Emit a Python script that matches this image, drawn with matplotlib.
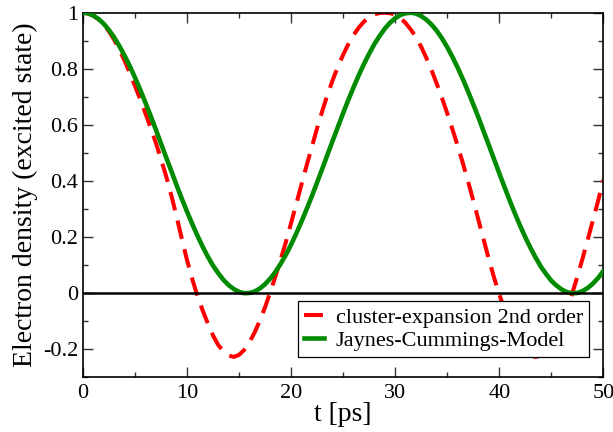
import matplotlib
matplotlib.use("Agg")
import matplotlib.pyplot as plt
import matplotlib.ticker as mticker

# time axis in ps, 0.5 ps steps
t_ps = [i * 0.5 for i in range(101)]

# excited-state electron density, cluster expansion (2nd order)
cluster_2nd = [
    1.000, 0.997, 0.990, 0.977, 0.958, 0.934, 0.905, 0.870, 0.830, 0.786,
    0.740, 0.693, 0.643, 0.592, 0.538, 0.480, 0.418, 0.350, 0.275, 0.196,
    0.120, 0.052, -0.008, -0.060, -0.107, -0.150, -0.184, -0.208, -0.222, -0.227,
    -0.220, -0.202, -0.175, -0.140, -0.098, -0.050, 0.003, 0.060, 0.120, 0.182,
    0.250, 0.318, 0.388, 0.456, 0.522, 0.588, 0.650, 0.708, 0.760, 0.808,
    0.850, 0.888, 0.920, 0.947, 0.968, 0.984, 0.994, 0.999, 1.000, 0.998,
    0.993, 0.981, 0.963, 0.940, 0.912, 0.878, 0.838, 0.794, 0.746, 0.695,
    0.641, 0.584, 0.525, 0.463, 0.398, 0.330, 0.260, 0.190, 0.120, 0.055,
    -0.005, -0.058, -0.105, -0.147, -0.181, -0.207, -0.222, -0.227, -0.222, -0.206,
    -0.180, -0.145, -0.102, -0.053, 0.000, 0.060, 0.125, 0.193, 0.262, 0.332,
    0.405,
]

# excited-state electron density, Jaynes-Cummings model
jaynes_cummings = [
    1.000, 0.998, 0.990, 0.978, 0.961, 0.939, 0.913, 0.882, 0.848, 0.811,
    0.770, 0.727, 0.681, 0.634, 0.585, 0.535, 0.485, 0.436, 0.386, 0.338,
    0.292, 0.248, 0.206, 0.167, 0.131, 0.099, 0.072, 0.048, 0.029, 0.015,
    0.005, 0.000, 0.001, 0.006, 0.017, 0.032, 0.052, 0.076, 0.105, 0.137,
    0.173, 0.213, 0.255, 0.300, 0.346, 0.395, 0.444, 0.494, 0.544, 0.593,
    0.642, 0.689, 0.734, 0.777, 0.817, 0.854, 0.888, 0.917, 0.943, 0.964,
    0.980, 0.992, 0.998, 1.000, 0.997, 0.988, 0.975, 0.957, 0.935, 0.908,
    0.877, 0.842, 0.804, 0.763, 0.719, 0.673, 0.626, 0.576, 0.527, 0.477,
    0.427, 0.378, 0.330, 0.284, 0.240, 0.199, 0.161, 0.126, 0.094, 0.068,
    0.044, 0.027, 0.013, 0.004, 0.000, 0.001, 0.008, 0.019, 0.035, 0.055,
    0.080,
]

x_ticks = [0, 10, 20, 30, 40, 50]
y_ticks = [-0.2, 0, 0.2, 0.4, 0.6, 0.8, 1]

plt.rcParams["font.family"] = ["Liberation Serif", "DejaVu Serif"]
plt.rcParams["axes.unicode_minus"] = False

fig = plt.figure(figsize=(6.13, 4.32), dpi=100)
ax = fig.add_axes([0.135, 0.1264, 0.8495, 0.8442])

ax.plot(t_ps, cluster_2nd, color="#ff0000", lw=2.9, dashes=(4.7, 2.6),
        label="cluster-expansion 2nd order", zorder=2)
ax.plot(t_ps, jaynes_cummings, color="#008b00", lw=3.3,
        solid_joinstyle="round", label="Jaynes-Cummings-Model", zorder=3)
ax.axhline(0, color="black", lw=1.8, zorder=4)

ax.set_xlim(0, 50)
ax.set_ylim(-0.3, 1)
ax.set_xticks(x_ticks)
ax.set_yticks(y_ticks)
ax.xaxis.set_minor_locator(mticker.MultipleLocator(5))
ax.yaxis.set_minor_locator(mticker.MultipleLocator(0.1))
ax.xaxis.set_major_formatter(mticker.FormatStrFormatter("%g"))
ax.yaxis.set_major_formatter(mticker.FormatStrFormatter("%g"))

ax.tick_params(which="both", direction="in", top=True, right=True,
               labelsize=16, color="#333333", width=1.0)
ax.tick_params(axis="x", pad=5)
ax.tick_params(axis="y", pad=3.5)
ax.tick_params(which="major", length=7)
ax.tick_params(which="minor", length=3.5)
for sp in ax.spines.values():
    sp.set_linewidth(1.2)

ax.set_xlabel("t [ps]", fontsize=20, labelpad=-1)
ax.set_ylabel("Electron density (excited state)", fontsize=20, labelpad=3)

leg = ax.legend(loc="lower right", bbox_to_anchor=(0.973, 0.056),
                fontsize=16, frameon=True, fancybox=False,
                handlelength=0.9, handletextpad=0.55, labelspacing=0.1,
                borderpad=0.28, borderaxespad=0)
leg.get_frame().set_edgecolor("black")
leg.get_frame().set_linewidth(0.9)
leg.get_frame().set_alpha(1)

fig.savefig("out.png", dpi=100)
